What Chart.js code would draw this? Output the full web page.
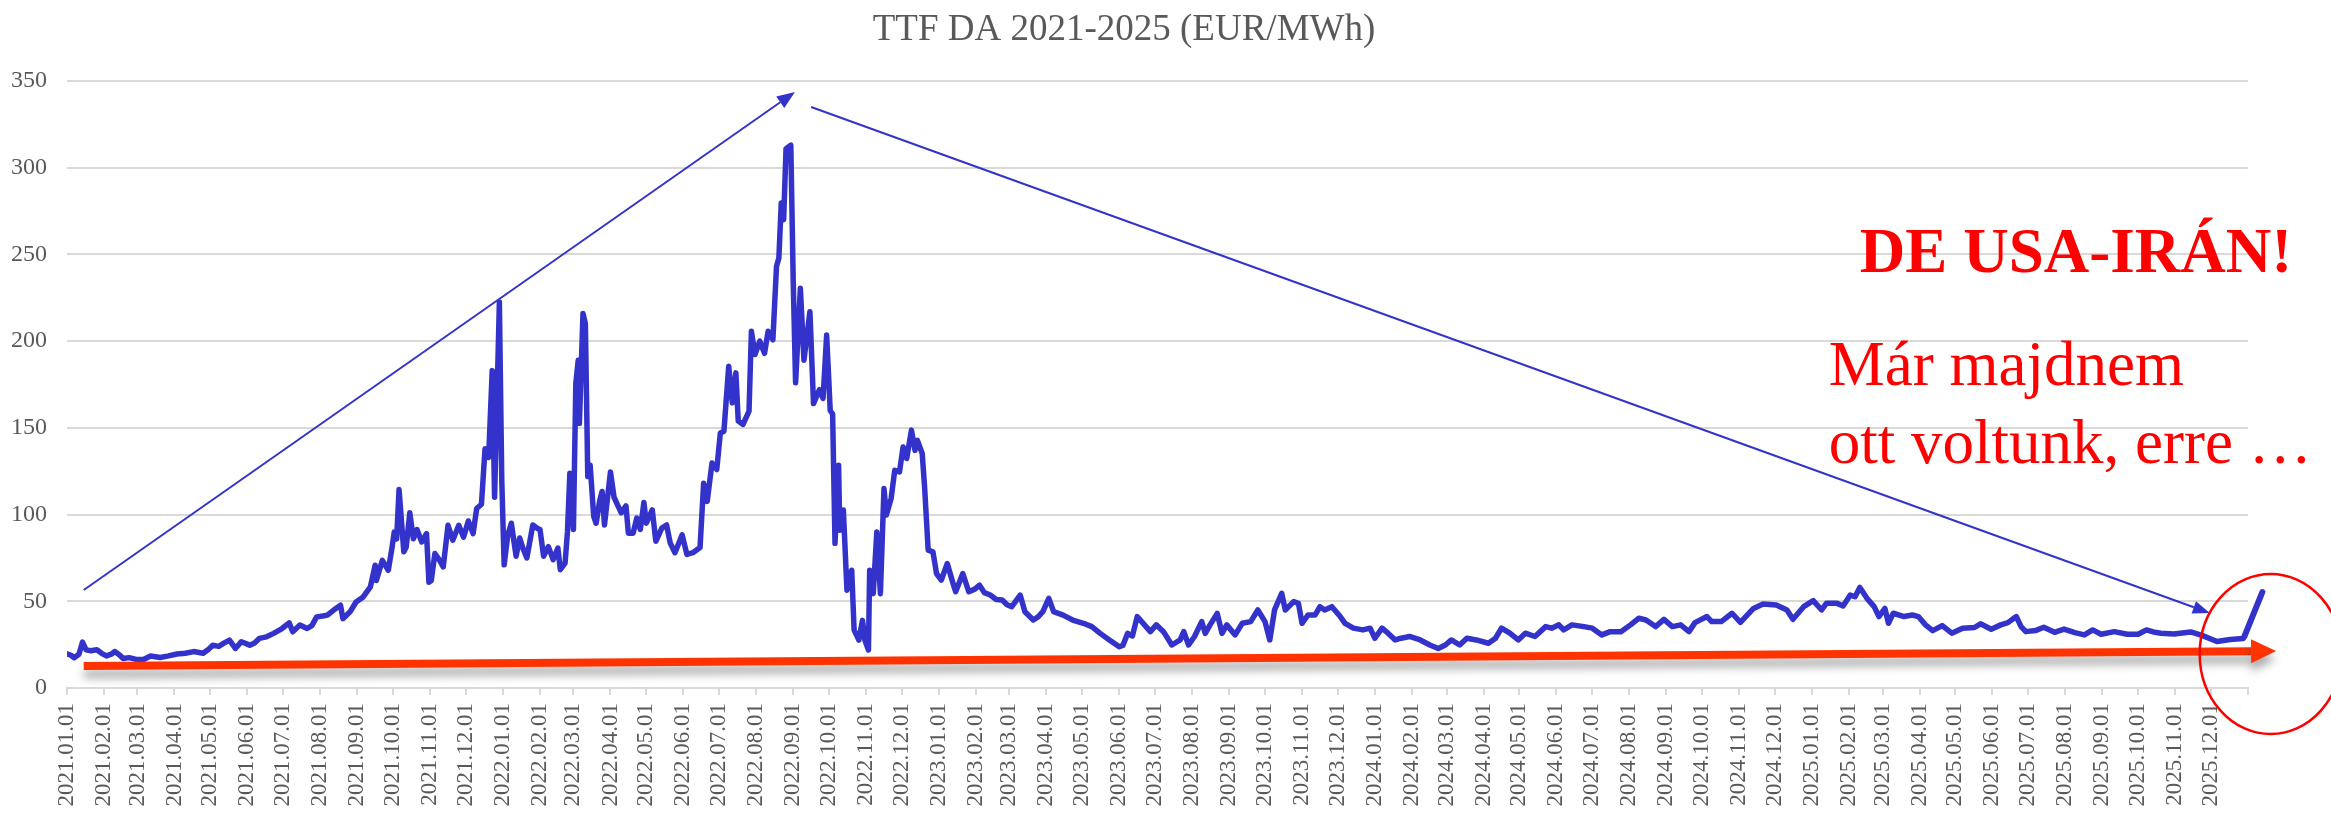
<!DOCTYPE html>
<html><head><meta charset="utf-8"><title>TTF DA 2021-2025 (EUR/MWh)</title>
<style>
    html, body {
        margin: 0;
        padding: 0;
        background: #fff;
    }
    #wrap {
        width: 2331px;
        height: 813px;
    }
</style>
<script src="https://cdn.jsdelivr.net/npm/chart.js"></script>
</head>
<body>
<div id="wrap"><canvas id="ttf"></canvas></div>

<script>
// x values are days since 2021-01-01
const dayOffsets = [
    0,3,6,10,13,16,20,25,29,33,37,40,44,47,52,58,64,70,78,85,
    92,99,106,114,118,122,127,131,136,141,146,153,157,161,167,173,180,186,189,195,
    201,205,209,214,218,223,229,231,237,242,248,254,258,259,264,269,272,274,276,278,
    282,284,287,290,293,297,301,303,305,308,312,315,319,323,328,332,336,340,343,347,
    350,353,356,358,362,364,366,369,372,376,379,382,385,390,394,396,399,403,407,411,
    413,417,419,421,424,426,428,429,432,434,436,438,441,443,446,448,450,455,458,462,
    464,468,470,474,477,480,483,485,490,493,498,502,505,509,515,519,524,530,533,536,
    540,544,547,550,554,557,560,562,566,571,573,576,580,584,587,591,594,596,598,600,
    602,606,608,610,614,617,622,625,630,633,636,639,641,643,646,647,650,653,657,659,
    663,666,668,671,672,675,678,681,684,686,690,693,697,700,703,707,710,712,716,718,
    721,725,728,732,737,741,744,750,755,760,764,768,773,778,783,787,791,798,802,809,
    813,817,822,826,830,834,842,851,858,865,873,881,884,888,892,896,901,907,912,918,
    925,932,935,939,944,950,953,957,963,967,971,978,984,991,997,1003,1007,1011,1017,1020,
    1027,1031,1034,1039,1045,1049,1053,1059,1066,1070,1077,1085,1091,1095,1101,1106,1112,1117,1124,1133,
    1141,1148,1154,1159,1166,1172,1180,1190,1196,1201,1208,1215,1221,1229,1238,1243,1249,1253,1260,1270,
    1277,1285,1292,1301,1309,1316,1322,1330,1337,1344,1351,1358,1363,1373,1377,1385,1394,1401,1412,1420,
    1431,1440,1445,1454,1462,1469,1473,1482,1487,1493,1497,1501,1507,1513,1517,1522,1525,1529,1538,1545,
    1550,1556,1562,1570,1578,1587,1597,1602,1611,1619,1625,1632,1636,1640,1648,1655,1664,1672,1681,1689,
    1696,1703,1714,1725,1734,1741,1748,1753,1764,1778,1788,1800,1811,1822
];
// EUR/MWh
const prices = [
    19.6,19.0,17.5,19.5,26.5,22,21.5,22,20,18.5,19.5,21,19,17,17.5,16.5,16.5,18.4,17.6,18.5,
    19.6,20,21,20,22,24.7,24,25.7,27.6,22.8,26.7,24.7,26,28.6,29.5,31.5,34.3,37.6,32.4,36.3,
    34.3,36,41,41.5,42,44.8,47.7,40,43.9,49.6,52.5,58.3,70.8,62,73.6,67.9,80.4,90,86,114.5,
    78.5,81.3,101,86,91.4,84.2,89,61,62,77.5,73.6,69.8,93.8,85.2,93.8,87,96.3,89,103.5,106,
    138,133,183,110,222.5,120,71,88,95,76,86.5,80,75,94,92,91.4,76,81.5,74,80.7,
    68.2,72,90,123.8,91.4,175.7,189,152.6,216,210,122,128.5,98.8,95,108,113.3,94,124.6,110,104,
    101,105,89.3,89.3,98,91.4,107,95,102.7,84.6,92.2,94,83.7,78,88.3,77,78,81,118,107.6,
    129.7,126,147,148,185.5,164.4,181.7,153.9,152,159.6,205.7,192.3,200,193,205.7,200.8,243,248,279.6,270,
    311,313,235,176,230.5,189,217,164,172,167,203.5,160,158,83.4,128.5,91,102.6,56.4,67.9,33.4,
    27.6,39,27.6,21.9,67.9,54.4,90,54.4,115,99.7,109.3,125.5,124.6,139,132.3,148.7,137,142.8,135.2,116,
    79.5,78.5,66,62.2,71.8,62.2,55.5,66,55.5,57,59.3,55,53.6,51,50.7,48,46.9,53.6,44,39.2,
    41,44,51.7,44,43,42,39.2,37.3,35.4,31.5,27.6,23.8,24.5,31.5,30,41.2,37.3,32.5,36.4,32.5,
    24.8,27.7,32.5,24.8,29.7,38.3,31.5,36.4,43,31.5,36.4,30.6,37.3,38.3,45,38.3,27.7,45,54.6,45,
    49.8,48.8,37.3,42.1,42.1,46.9,45,46.9,41.2,37.3,34.5,33.5,34.5,28.7,34.5,31.6,27.7,28.7,29.7,27.7,
    24.8,22.8,24.8,27.7,24.8,28.7,27.7,25.8,28.7,34.5,31.6,27.7,31.6,29.7,35.4,34.5,36.4,33.5,36.4,35.4,
    34.5,30.6,32.5,32.5,36.4,40.2,39.2,35.4,39.6,35.4,36.4,32.5,37.7,41.2,38.3,38.3,43.1,37.9,45.9,48.4,
    47.8,45,39.6,46.9,50.4,45,48.8,48.8,47.3,53.6,52.6,58,51.7,46.9,41.2,45.9,37.3,43.1,41.2,42.1,
    41.2,36.4,33.1,36,31.6,34.5,34.9,37,33.9,36.4,37.7,41.2,35.4,32.5,33.1,35,32.1,34,31.9,30.6,
    33.5,31,32.5,31,31,33.5,32.1,31.6,31.1,32.3,30.2,26.8,28,28.5
];
// the hand-drawn jump at the very end (early January 2026)
const jumpDays = [1823, 1838];
const jumpPrices = [29.7, 55.3];

const monthLabels = [
    '2021.01.01','2021.02.01','2021.03.01','2021.04.01','2021.05.01','2021.06.01','2021.07.01','2021.08.01','2021.09.01','2021.10.01','2021.11.01','2021.12.01',
    '2022.01.01','2022.02.01','2022.03.01','2022.04.01','2022.05.01','2022.06.01','2022.07.01','2022.08.01','2022.09.01','2022.10.01','2022.11.01','2022.12.01',
    '2023.01.01','2023.02.01','2023.03.01','2023.04.01','2023.05.01','2023.06.01','2023.07.01','2023.08.01','2023.09.01','2023.10.01','2023.11.01','2023.12.01',
    '2024.01.01','2024.02.01','2024.03.01','2024.04.01','2024.05.01','2024.06.01','2024.07.01','2024.08.01','2024.09.01','2024.10.01','2024.11.01','2024.12.01',
    '2025.01.01','2025.02.01','2025.03.01','2025.04.01','2025.05.01','2025.06.01','2025.07.01','2025.08.01','2025.09.01','2025.10.01','2025.11.01','2025.12.01'
];
const axisEndLabel = '2026.01.01';   // last tick, drawn without text
const yMin = 0, yMax = 350, yStep = 50;

const headline = 'DE USA-IRÁN!';
const noteLines = ['Már majdnem', 'ott voltunk, erre …'];

// annotation anchors in data units [day, price]
const riseArrow = [[14, 56.5], [609.5, 343.7]];
const fallArrow = [[623, 335], [1794, 43.2]];
const floorArrow = [[14, 12.7], [1849.5, 21.3]];
const ringCentre = [1845, 19.6];
const headlineAt = [1682, 240];
const noteAt = [[1475, 174.7], [1475, 129.7]];

const epoch = Date.UTC(2021, 0, 1);
function labelToDay(s) {
    const p = s.split('.');
    return Math.round((Date.UTC(+p[0], +p[1] - 1, +p[2]) - epoch) / 86400000);
}
const tickDays = monthLabels.map(labelToDay);
const endDay = labelToDay(axisEndLabel);
const labelByDay = {};
monthLabels.forEach((l, i) => labelByDay[tickDays[i]] = l);

const series = dayOffsets.map((d, i) => ({ x: d, y: prices[i] }));
const jump = jumpDays.map((d, i) => ({ x: d, y: jumpPrices[i] }));

const SERIF = "'Liberation Serif', 'Times New Roman', serif";

function arrow(ctx, x1, y1, x2, y2, width, headLen, headHalf, color) {
    const a = Math.atan2(y2 - y1, x2 - x1);
    const bx = x2 - Math.cos(a) * headLen, by = y2 - Math.sin(a) * headLen;
    ctx.strokeStyle = color;
    ctx.fillStyle = color;
    ctx.lineWidth = width;
    ctx.lineCap = 'butt';
    ctx.beginPath();
    ctx.moveTo(x1, y1);
    ctx.lineTo(bx, by);
    ctx.stroke();
    ctx.beginPath();
    ctx.moveTo(x2, y2);
    ctx.lineTo(bx + Math.sin(a) * headHalf, by - Math.cos(a) * headHalf);
    ctx.lineTo(bx - Math.sin(a) * headHalf, by + Math.cos(a) * headHalf);
    ctx.closePath();
    ctx.fill();
}

const notes = {
    id: 'notes',
    afterDatasetsDraw(chart) {
        const ctx = chart.ctx;
        const sx = chart.scales.x, sy = chart.scales.y;
        const px = p => [sx.getPixelForValue(p[0]), sy.getPixelForValue(p[1])];

        // thick orange floor arrow with a soft shadow
        ctx.save();
        ctx.shadowColor = 'rgba(0,0,0,0.35)';
        ctx.shadowBlur = 10;
        ctx.shadowOffsetY = 8;
        let a = px(floorArrow[0]), b = px(floorArrow[1]);
        arrow(ctx, a[0], a[1], b[0], b[1], 8, 25, 12, '#ff3300');
        ctx.restore();

        ctx.save();
        a = px(riseArrow[0]); b = px(riseArrow[1]);
        arrow(ctx, a[0], a[1], b[0], b[1], 2, 18, 7, '#3333cc');
        a = px(fallArrow[0]); b = px(fallArrow[1]);
        arrow(ctx, a[0], a[1], b[0], b[1], 2, 17, 6.5, '#3333cc');

        const c = px(ringCentre);
        ctx.strokeStyle = '#ff0000';
        ctx.lineWidth = 2.5;
        ctx.beginPath();
        ctx.ellipse(c[0], c[1], 71, 80, 0, 0, Math.PI * 2);
        ctx.stroke();

        ctx.fillStyle = '#ff0000';
        ctx.textBaseline = 'alphabetic';
        ctx.font = 'bold 63px ' + SERIF;
        ctx.textAlign = 'center';
        const h = px(headlineAt);
        ctx.fillText(headline, h[0], h[1]);
        ctx.font = '63px ' + SERIF;
        ctx.textAlign = 'left';
        noteLines.forEach((t, i) => {
            const p = px(noteAt[i]);
            ctx.fillText(t, p[0], p[1]);
        });
        ctx.restore();
    }
};

new Chart(document.getElementById('ttf'), {
    type: 'line',
    data: {
        datasets: [{
            label: 'TTF DA',
            data: series,
            borderColor: '#3333cc',
            borderWidth: 5.5,
            borderJoinStyle: 'round',
            borderCapStyle: 'round',
            pointRadius: 0,
            tension: 0
        }, {
            label: 'jump',
            data: jump,
            borderColor: '#3333cc',
            borderWidth: 6,
            borderCapStyle: 'round',
            pointRadius: 0,
            clip: false
        }]
    },
    options: {
        responsive: true,
        maintainAspectRatio: false,
        animation: false,
        layout: { padding: { top: 0, right: 83, bottom: 0, left: 0 } },
        plugins: {
            legend: { display: false },
            tooltip: { enabled: false },
            title: {
                display: true,
                text: 'TTF DA 2021-2025 (EUR/MWh)',
                color: '#595959',
                font: { family: SERIF, size: 37, weight: 'normal', lineHeight: 1.2 },
                padding: { top: 8, bottom: 28.6 }
            }
        },
        scales: {
            x: {
                type: 'linear',
                min: 0,
                max: endDay,
                afterBuildTicks: scale => {
                    scale.ticks = tickDays.concat([endDay]).map(v => ({ value: v }));
                },
                afterFit: scale => { scale.height = 125; },
                ticks: {
                    autoSkip: false,
                    maxRotation: 90,
                    minRotation: 90,
                    padding: 8,
                    color: '#595959',
                    font: { family: SERIF, size: 23 },
                    callback: v => labelByDay[v] || ''
                },
                grid: {
                    drawOnChartArea: false,
                    drawTicks: true,
                    tickLength: 7,
                    color: '#d9d9d9',
                    lineWidth: 2
                },
                border: { display: true, color: '#d9d9d9', width: 2 }
            },
            y: {
                min: yMin,
                max: yMax,
                afterFit: scale => { scale.width = 67; },
                ticks: {
                    stepSize: yStep,
                    padding: 20,
                    color: '#595959',
                    font: { family: SERIF, size: 24 }
                },
                grid: { color: '#d9d9d9', lineWidth: 2, drawTicks: false },
                border: { display: false }
            }
        }
    },
    plugins: [notes]
});
</script>
</body></html>
